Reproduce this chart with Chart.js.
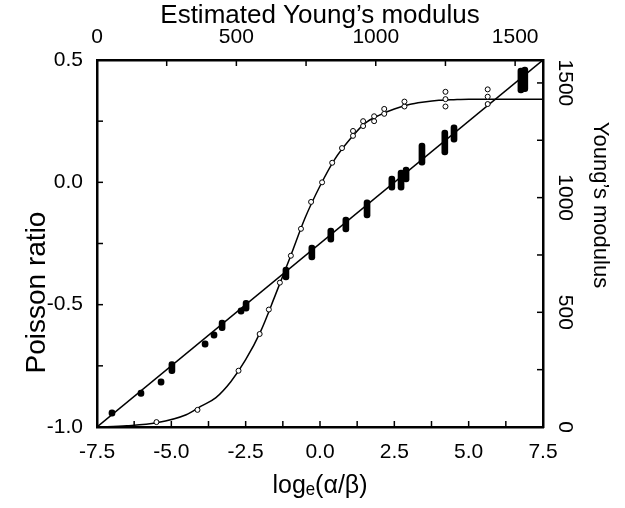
<!DOCTYPE html>
<html>
<head>
<meta charset="utf-8">
<title>Poisson ratio and Young's modulus</title>
<script src="https://cdn.jsdelivr.net/npm/chart.js@4"></script>
<style>
  html, body { margin: 0; padding: 0; background: #fff; }
  #wrap { width: 625px; height: 508px; }
</style>
</head>
<body>
<div id="wrap"><canvas id="chart"></canvas></div>
<script>
// Fitted Poisson ratio curve
const curveLogRatio = [-7.5, -6.5, -5.5, -4.5, -4.0, -3.5, -3.0, -2.5, -2.0, -1.5, -1.0, -0.5, 0.0, 0.5, 1.0, 1.5, 2.0, 2.5, 3.0, 3.5, 4.0, 4.5, 5.0, 7.5];
const curvePoisson  = [-1.0, -0.995, -0.983, -0.95, -0.915, -0.88, -0.815, -0.725, -0.61, -0.46, -0.305, -0.145, -0.015, 0.095, 0.175, 0.24, 0.275, 0.30, 0.318, 0.328, 0.335, 0.338, 0.34, 0.34];

// Measured Poisson ratios (open circles)
const circleLogRatio = [-5.5, -4.12, -2.74, -2.03, -1.72, -1.35, -0.98, -0.64, -0.30, 0.07, 0.41, 0.74, 1.11, 1.11, 1.45, 1.45, 1.82, 1.82, 2.16, 2.16, 2.84, 2.84, 4.22, 4.22, 4.22, 5.64, 5.64, 5.64];
const circlePoisson  = [-0.98, -0.93, -0.77, -0.62, -0.52, -0.41, -0.30, -0.19, -0.08, 0.0, 0.08, 0.14, 0.19, 0.21, 0.23, 0.25, 0.25, 0.27, 0.28, 0.30, 0.31, 0.33, 0.31, 0.34, 0.37, 0.32, 0.35, 0.38];

// Young's modulus vs estimated Young's modulus (identity line)
const lineEstimated = [0, 1600];
const lineYoung     = [0, 1600];

// Young's modulus clusters (filled marks): estimated value, low, high
const estYoung  = [43, 147, 219, 258, 377, 409, 438, 506, 524, 667, 760, 828, 882, 958, 1047, 1080, 1098, 1155, 1237, 1270, 1510, 1524];
const youngLow  = [47, 133, 182, 232, 348, 387, 420, 492, 505, 641, 728, 806, 850, 911, 1033, 1033, 1068, 1142, 1186, 1242, 1456, 1462];
const youngHigh = [75, 161, 210, 285, 376, 415, 466, 520, 552, 697, 793, 867, 915, 990, 1094, 1120, 1133, 1238, 1295, 1317, 1565, 1569];

// tick values for the two Young's modulus axes
const youngTicks = [0, 250, 500, 750, 1000, 1250, 1500];

const pts = (xs, ys) => xs.map((x, i) => ({ x, y: ys[i] }));

const FONT = "'Liberation Sans', Arial, Helvetica, sans-serif";

// tick marks pointing into the plot
const inwardTicks = {
  id: 'inwardTicks',
  afterDraw(chart) {
    const { ctx, chartArea: a } = chart;
    const len = 6;
    ctx.save();
    ctx.strokeStyle = '#000';
    ctx.lineWidth = 1.5;
    ['x', 'y', 'x2', 'y2'].forEach(id => {
      const s = chart.scales[id];
      s.ticks.forEach(t => {
        const p = s.getPixelForValue(t.value);
        ctx.beginPath();
        if (s.isHorizontal()) {
          if (p <= a.left + 2 || p >= a.right - 2) return;
          const y0 = s.position === 'bottom' ? a.bottom : a.top;
          const dir = s.position === 'bottom' ? -1 : 1;
          ctx.moveTo(p, y0);
          ctx.lineTo(p, y0 + dir * len);
        } else {
          if (p <= a.top + 2 || p >= a.bottom - 2) return;
          const x0 = s.position === 'left' ? a.left : a.right;
          const dir = s.position === 'left' ? 1 : -1;
          ctx.moveTo(x0, p);
          ctx.lineTo(x0 + dir * len, p);
        }
        ctx.stroke();
      });
    });
    ctx.restore();
  }
};

const isMult = (v, m) => Math.abs(v / m - Math.round(v / m)) < 1e-6;
const edge = { display: true, color: '#000', width: 2.5 };
const noGrid = { display: true, drawOnChartArea: false, drawTicks: false, offset: false };
const setYoungTicks = s => { s.ticks = youngTicks.map(v => ({ value: v })); };
// trailing spaces push the rotated titles off-centre like the original
const pad = n => '\u2002'.repeat(n);

new Chart(document.getElementById('chart'), {
  type: 'scatter',
  data: {
    datasets: [
      {
        type: 'scatter',
        data: pts(circleLogRatio, circlePoisson),
        xAxisID: 'x', yAxisID: 'y',
        pointStyle: 'circle',
        pointRadius: 2.5,
        pointBackgroundColor: '#fff',
        pointBorderColor: '#000',
        pointBorderWidth: 1
      },
      {
        type: 'bar',
        data: estYoung.map((x, i) => ({ x, y: [youngLow[i], youngHigh[i]] })),
        xAxisID: 'x2', yAxisID: 'y2',
        backgroundColor: '#000',
        barThickness: 6,
        borderRadius: 3,
        borderSkipped: false
      },
      {
        type: 'line',
        data: pts(curveLogRatio, curvePoisson),
        xAxisID: 'x', yAxisID: 'y',
        borderColor: '#000',
        borderWidth: 1.5,
        pointRadius: 0,
        cubicInterpolationMode: 'monotone'
      },
      {
        type: 'line',
        data: pts(lineEstimated, lineYoung),
        xAxisID: 'x2', yAxisID: 'y2',
        borderColor: '#000',
        borderWidth: 1.5,
        pointRadius: 0
      }
    ]
  },
  options: {
    responsive: true,
    maintainAspectRatio: false,
    animation: false,
    layout: { padding: 0 },
    plugins: { legend: { display: false }, tooltip: { enabled: false } },
    scales: {
      x: {
        type: 'linear', position: 'bottom', min: -7.5, max: 7.5, offset: false,
        grid: noGrid, border: edge,
        ticks: {
          stepSize: 1.25, autoSkip: false, maxRotation: 0, padding: 13, color: '#000',
          font: { family: FONT, size: 21 },
          callback: v => isMult(v, 2.5) ? v.toFixed(1) : ''
        },
        title: { display: true, text: 'logₑ(α/β)', color: '#000', font: { family: FONT, size: 25 }, padding: { top: 0, bottom: 7 } },
        afterFit: s => { s.height = 81; }
      },
      y: {
        type: 'linear', position: 'left', min: -1.0, max: 0.5,
        grid: noGrid, border: edge,
        ticks: {
          stepSize: 0.25, autoSkip: false, padding: 14, color: '#000',
          font: { family: FONT, size: 21 },
          callback: v => isMult(v, 0.5) ? v.toFixed(1) : ''
        },
        title: { display: true, text: 'Poisson ratio' + pad(7), color: '#000', font: { family: FONT, size: 28 }, padding: { top: 20, bottom: 0 } },
        afterFit: s => { s.width = 97; }
      },
      x2: {
        type: 'linear', position: 'top', min: 0, max: 1600, offset: false,
        grid: noGrid, border: edge,
        ticks: {
          autoSkip: false, maxRotation: 0, padding: 10, color: '#000',
          font: { family: FONT, size: 21 },
          callback: v => isMult(v, 500) ? String(v) : ''
        },
        afterBuildTicks: setYoungTicks,
        title: { display: true, text: "Estimated Young’s modulus", color: '#000', font: { family: FONT, size: 26 }, padding: { top: 0, bottom: 0 } },
        afterFit: s => { s.height = 60; }
      },
      y2: {
        type: 'linear', position: 'right', min: 0, max: 1600,
        grid: noGrid, border: edge,
        ticks: {
          autoSkip: false, minRotation: -90, maxRotation: -90,
          crossAlign: 'center', padding: -2, color: '#000',
          font: { family: FONT, size: 21 },
          callback: v => isMult(v, 500) ? String(v) : ''
        },
        afterBuildTicks: setYoungTicks,
        title: { display: true, text: "Young’s modulus" + pad(7), color: '#000', font: { family: FONT, size: 22 }, padding: { top: 12, bottom: 0 } },
        afterFit: s => { s.width = 82; }
      }
    }
  },
  plugins: [inwardTicks]
});
</script>
</body>
</html>
